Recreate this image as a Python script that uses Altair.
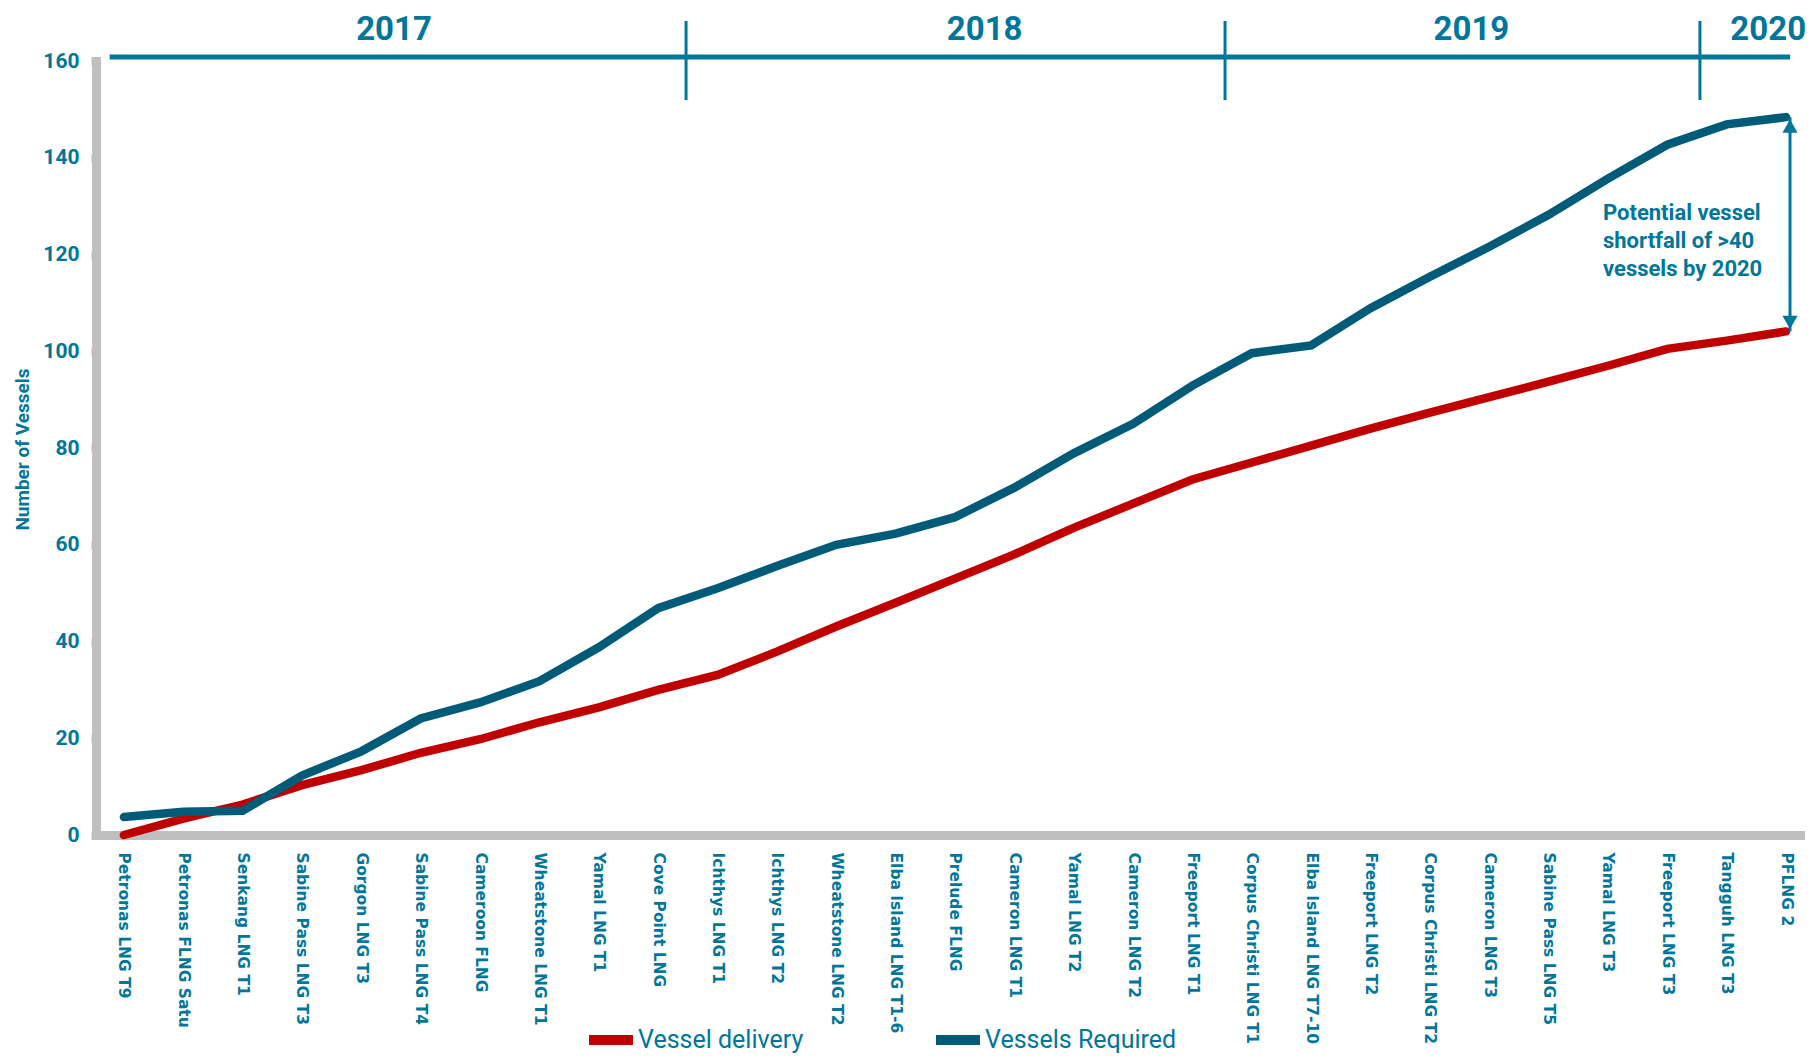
import json
import altair as alt
import pandas as pd

# ---------------- data ----------------
categories = [
    "Petronas LNG T9", "Petronas FLNG Satu", "Senkang LNG T1", "Sabine Pass LNG T3",
    "Gorgon LNG T3", "Sabine Pass LNG T4", "Cameroon FLNG", "Wheatstone LNG T1",
    "Yamal LNG T1", "Cove Point LNG", "Ichthys LNG T1", "Ichthys LNG T2",
    "Wheatstone LNG T2", "Elba Island LNG T1-6", "Prelude FLNG", "Cameron LNG T1",
    "Yamal LNG T2", "Cameron LNG T2", "Freeport LNG T1", "Corpus Christi LNG T1",
    "Elba Island LNG T7-10", "Freeport LNG T2", "Corpus Christi LNG T2", "Cameron LNG T3",
    "Sabine Pass LNG T5", "Yamal LNG T3", "Freeport LNG T3", "Tangguh LNG T3", "PFLNG 2",
]
vessels_required = [3.7, 4.8, 5.0, 12.3, 17.3, 24.1, 27.4, 31.8, 38.8, 46.9, 51.0, 55.6,
                    60.0, 62.3, 65.7, 71.8, 78.9, 85.0, 92.9, 99.6, 101.2, 108.9, 115.4,
                    121.6, 128.2, 135.7, 142.7, 146.9, 148.4]
vessel_delivery = [0.0, 3.4, 6.3, 10.3, 13.4, 17.0, 19.8, 23.3, 26.4, 30.0, 33.1, 37.9,
                   43.1, 48.0, 53.0, 58.0, 63.5, 68.5, 73.5, 77.0, 80.5, 84.0, 87.3,
                   90.5, 93.7, 97.0, 100.5, 102.2, 104.1]
series_names = ["Vessel delivery", "Vessels Required"]
years = ["2017", "2018", "2019", "2020"]
year_label_pos = [4.55, 14.5, 22.7, 27.7]       # in category-index units
year_boundaries = [9.47, 18.55, 26.55]
timeline_span = [-0.24, 28.07]
y_ticks = [0, 20, 40, 60, 80, 100, 120, 140, 160]
note_lines = ["Potential vessel", "shortfall of >40", "vessels by 2020"]

# ---------------- styling ----------------
TEAL = "#00769A"
DARK = "#005B78"
RED = "#C00000"
GRAY = "#BFBFBF"
CAL = "Roboto, sans-serif"
WIDE = "DejaVu Sans, Verdana, sans-serif"

rows = []
for i, c in enumerate(categories):
    rows.append({"idx": i, "series": series_names[0], "value": vessel_delivery[i]})
    rows.append({"idx": i, "series": series_names[1], "value": vessels_required[i]})
df = pd.DataFrame(rows)

x_scale = alt.Scale(domain=[-0.47, 28.32], nice=False, zero=False)
y_scale = alt.Scale(domain=[0, 160], nice=False)
label_expr = json.dumps(categories) + "[round(datum.value)]"

x_axis = alt.Axis(
    values=list(range(len(categories))), labelExpr=label_expr, title=None,
    labelAngle=90, labelAlign="left", labelBaseline="middle", ticks=False, tickSize=0,
    labelPadding=17, labelFont=WIDE, labelFontSize=15.5, labelFontWeight="bold",
    labelColor=TEAL, domainColor=GRAY, domainWidth=9, domainCap="square",
    labelLimit=400, labelOverlap=False, labelBound=False, labelFlush=False, grid=False)
y_axis = alt.Axis(
    values=y_ticks, title="Number of Vessels", grid=False,
    labelFont=CAL, labelFontSize=21, labelFontWeight="bold", labelColor=TEAL,
    labelPadding=12, tickColor=GRAY, tickSize=5, tickWidth=8,
    domainColor=GRAY, domainWidth=9, domainCap="square",
    titleFont=CAL, titleFontSize=19, titleFontWeight="bold", titleColor=TEAL,
    titleX=-74, titleY=388, titleAngle=270, titleAlign="center", titleBaseline="middle")

lines = alt.Chart(df).mark_line(strokeWidth=8.5, strokeCap="round", strokeJoin="miter").encode(
    x=alt.X("idx:Q", scale=x_scale, axis=x_axis),
    y=alt.Y("value:Q", scale=y_scale, axis=y_axis),
    color=alt.Color("series:N", scale=alt.Scale(domain=series_names, range=[RED, DARK]),
                    legend=alt.Legend(title=None, orient="none", legendX=488, legendY=952,
                                      direction="horizontal", symbolType="stroke",
                                      symbolStrokeWidth=10, symbolSize=1936,
                                      labelFont=CAL, labelFontSize=25, labelColor=TEAL,
                                      columnPadding=112, labelOffset=0, padding=0,
                                      labelLimit=400)),
)

timeline = alt.Chart(pd.DataFrame({"idx": [timeline_span[0]], "b": [timeline_span[1]]})).mark_rule(
    strokeWidth=5, color=TEAL).encode(
    x=alt.X("idx:Q", scale=x_scale, axis=x_axis), x2="b:Q", y=alt.value(-4))

year_ticks = alt.Chart(pd.DataFrame({"idx": year_boundaries})).mark_rule(
    strokeWidth=3, color=TEAL).encode(
    x=alt.X("idx:Q", scale=x_scale, axis=x_axis), y=alt.value(-40), y2=alt.value(39))

year_text = alt.Chart(pd.DataFrame({"year": years, "idx": year_label_pos})).mark_text(
    font=CAL, fontSize=33, fontWeight="bold", color=TEAL, baseline="middle", align="center").encode(
    x=alt.X("idx:Q", scale=x_scale, axis=x_axis), y=alt.value(-31), text="year:N")

arrow_df = pd.DataFrame({"idx": [len(categories) - 1], "value": [vessels_required[-1]],
                         "bot": [vessel_delivery[-1]]})
arrow = alt.Chart(arrow_df).mark_rule(strokeWidth=3, color=TEAL, xOffset=4).encode(
    x=alt.X("idx:Q", scale=x_scale, axis=x_axis),
    y=alt.Y("value:Q", scale=y_scale, axis=y_axis), y2="bot:Q")
head_up = alt.Chart(arrow_df).mark_point(shape="triangle-up", filled=True, size=230,
                                         color=TEAL, opacity=1, xOffset=4, yOffset=9).encode(
    x=alt.X("idx:Q", scale=x_scale, axis=x_axis), y=alt.Y("value:Q", scale=y_scale, axis=y_axis))
head_down = alt.Chart(arrow_df).mark_point(shape="triangle-down", filled=True, size=230,
                                           color=TEAL, opacity=1, xOffset=4, yOffset=-9).encode(
    x=alt.X("idx:Q", scale=x_scale, axis=x_axis), y=alt.Y("bot:Q", scale=y_scale, axis=y_axis))

note = alt.Chart(pd.DataFrame({"a": [0]})).mark_text(
    text=note_lines, font=CAL, fontSize=22, fontWeight="bold", color=TEAL,
    align="left", baseline="middle", lineHeight=28).encode(
    x=alt.value(1507), y=alt.value(152))

chart = alt.layer(lines, timeline, year_ticks, year_text, arrow, head_up, head_down, note).properties(
    width=1709, height=774,
    autosize=alt.AutoSizeParams(type="none"),
    padding={"left": 88, "top": 53, "right": 0, "bottom": 218},
    background="white",
).configure_view(stroke=None)

chart.save("out.html", embed_options={"renderer": "svg", "actions": False})
